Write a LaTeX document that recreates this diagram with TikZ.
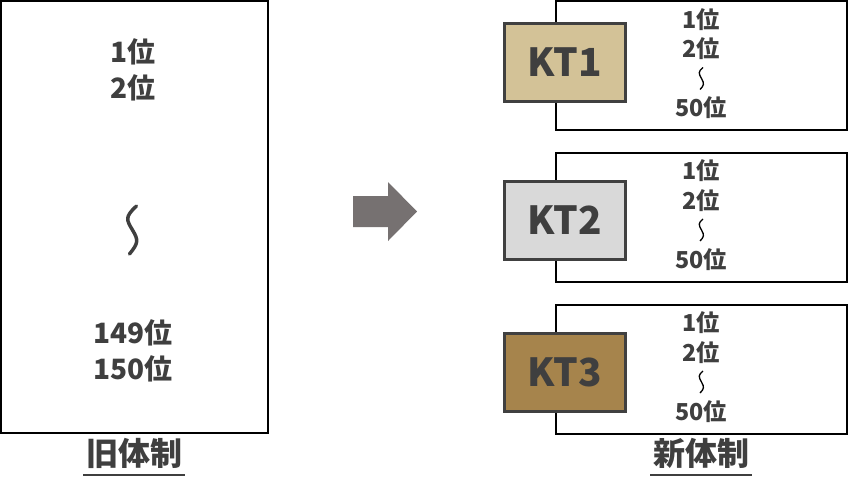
\documentclass[tikz,border=0pt]{standalone}
\usepackage{fontspec}
\setmainfont{Noto Sans CJK JP}
\usetikzlibrary{positioning}

\definecolor{txtgray}{HTML}{3F3F3F}
\definecolor{ktline}{HTML}{404040}
\definecolor{kttan}{HTML}{D3C297}
\definecolor{ktgray}{HTML}{D9D9D9}
\definecolor{ktbrown}{HTML}{A6844C}
\definecolor{arrowgray}{HTML}{767171}

\begin{document}
\begin{tikzpicture}[x=0.75pt, y=-0.75pt,
    every node/.style={font=\bfseries, text=txtgray, align=center, inner sep=0pt},
    frame/.style={rectangle, draw=black, line width=1.5pt, fill=white},
    ktbox/.style={rectangle, draw=ktline, line width=2.25pt, minimum width=90.75pt, minimum height=58.5pt,
        font=\fontsize{29pt}{29pt}\selectfont\bfseries},
    bigrank/.style={font=\fontsize{21pt}{27pt}\selectfont\bfseries},
    rank/.style={font=\fontsize{17.5pt}{22pt}\selectfont\bfseries},
    label/.style={font=\fontsize{24pt}{24pt}\selectfont\bfseries, anchor=base},
    uline/.style={draw=txtgray, line width=1.5pt},
    bigwave/.style={draw=txtgray, line width=2.6pt, line cap=round},
    wave/.style={draw=black, line width=1pt}
]
    \useasboundingbox (0,0) rectangle (848,501);

    % old ranking
    \node (old) [frame, minimum width=200.25pt, minimum height=324pt] at (134.5,217) {};
    \node (oldtop) [bigrank] at (133,70) {1位\\2位};
    \node (oldbot) [bigrank] at (133,350.5) {149位\\150位};
    \coordinate (oldwave) at (132.5,230);
    \draw [bigwave] ([shift={(4,-24)}]oldwave) .. controls +(-12,11) and +(-6,-10) .. (oldwave)
        .. controls +(6,10) and +(9,-11) .. ([shift={(-3,24)}]oldwave);
    \node (oldlbl) [label] at (134,465) {旧体制};
    \draw [uline] ([xshift=-2pt,yshift=-7.5pt]oldlbl.base west) -- ([xshift=2pt,yshift=-7.5pt]oldlbl.base east);

    % arrow
    \fill [arrowgray] (353,196) -- (388,196) -- (388,182) -- (417,211.5) -- (388,241)
        -- (388,227) -- (353,227) -- cycle;

    % new ranking
    \foreach \n/\y/\k/\c in {1/65.5/-3.5/kttan, 2/217/3/ktgray, 3/369/3/ktbrown} {
        \node (box\n) [frame, minimum width=218.25pt, minimum height=96.75pt] at (701.5,\y) {};
        \node (kt\n) [ktbox, fill=\c] at (564.5,\y+\k) {KT\n};
        \node (top\n) [rank] at (701,\y-31.5) {1位\\2位};
        \node (bot\n) [rank] at (701,\y+42.5) {50位};
        \coordinate (w\n) at (701.5,\y+13);
        \draw [wave] ([shift={(1.5,-11)}]w\n) .. controls +(-5,4) and +(-3,-5) .. (w\n)
            .. controls +(3,5) and +(4,-4) .. ([shift={(-1.5,11)}]w\n);
    }
    \node (newlbl) [label] at (701,465) {新体制};
    \draw [uline] ([xshift=-2pt,yshift=-7.5pt]newlbl.base west) -- ([xshift=2pt,yshift=-7.5pt]newlbl.base east);
\end{tikzpicture}
\end{document}
